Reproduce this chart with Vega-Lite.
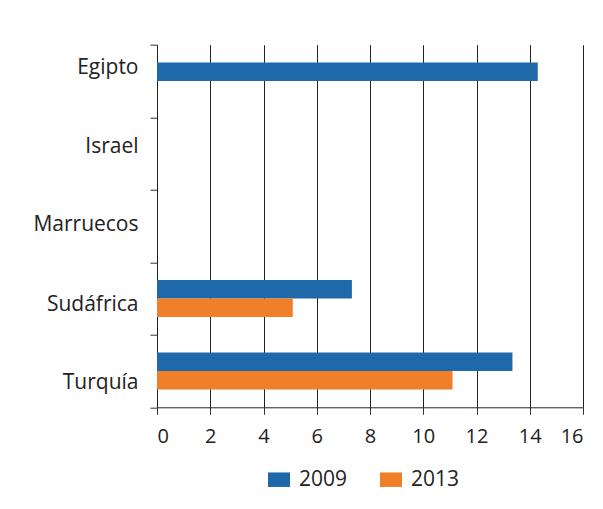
{
  "$schema": "https://vega.github.io/schema/vega-lite/v6.json",
  "width": 426,
  "height": 362.6,
  "autosize": {"type": "none"},
  "padding": {"left": 157, "top": 44.7, "right": 20, "bottom": 101.7},
  "background": "white",
  "data": {
    "values": [
      {"pais": "Egipto", "anio": "2009", "valor": 14.3},
      {"pais": "Sudáfrica", "anio": "2009", "valor": 7.32},
      {"pais": "Sudáfrica", "anio": "2013", "valor": 5.1},
      {"pais": "Turquía", "anio": "2009", "valor": 13.35},
      {"pais": "Turquía", "anio": "2013", "valor": 11.1}
    ]
  },
  "mark": {"type": "bar"},
  "encoding": {
    "y": {
      "field": "pais",
      "type": "nominal",
      "sort": ["Egipto", "Israel", "Marruecos", "Sudáfrica", "Turquía"],
      "scale": {"domain": ["Egipto", "Israel", "Marruecos", "Sudáfrica", "Turquía"], "paddingInner": 0, "paddingOuter": 0},
      "axis": {
        "title": null,
        "tickBand": "extent",
        "tickSize": 7,
        "labelPadding": 12,
        "labelFontSize": 21,
        "grid": false,
        "labelOffset": {
          "condition": [
            {"test": "datum.value === 'Egipto'", "value": -13.7},
            {"test": "datum.value === 'Israel'", "value": -7.4},
            {"test": "datum.value === 'Marruecos'", "value": -1.4},
            {"test": "datum.value === 'Sudáfrica'", "value": 5.7}
          ],
          "value": 11
        }
      }
    },
    "yOffset": {
      "field": "anio",
      "type": "nominal",
      "scale": {"domain": ["2009", "2013"], "paddingInner": 0, "paddingOuter": 0.96}
    },
    "x": {
      "field": "valor",
      "type": "quantitative",
      "scale": {"domain": [0, 16], "nice": false},
      "axis": {
        "title": null,
        "values": [0, 2, 4, 6, 8, 10, 12, 14, 16],
        "tickSize": 7,
        "labelPadding": 12,
        "labelFontSize": 20,
        "grid": true
      }
    },
    "color": {
      "field": "anio",
      "type": "nominal",
      "scale": {"domain": ["2009", "2013"], "range": ["#1f69ab", "#f07f29"]},
      "legend": {
        "title": null,
        "orient": "none",
        "direction": "horizontal",
        "legendX": 111,
        "legendY": 424,
        "symbolType": "M-1,-0.66L1,-0.66L1,0.66L-1,0.66Z",
        "symbolSize": 484,
        "symbolStrokeWidth": 0,
        "labelOffset": 9,
        "columnPadding": 32,
        "padding": 0
      }
    }
  },
  "config": {
    "view": {"stroke": null},
    "font": "Open Sans",
    "axis": {
      "labelFont": "Open Sans",
      "labelFontSize": 20,
      "labelColor": "#222222",
      "domainColor": "#222222",
      "tickColor": "#333333",
      "gridColor": "#222222",
      "gridOpacity": 1,
      "domainWidth": 1,
      "tickWidth": 1,
      "gridWidth": 1
    },
    "legend": {
      "labelFont": "Open Sans",
      "labelFontSize": 21,
      "labelColor": "#222222"
    }
  }
}
